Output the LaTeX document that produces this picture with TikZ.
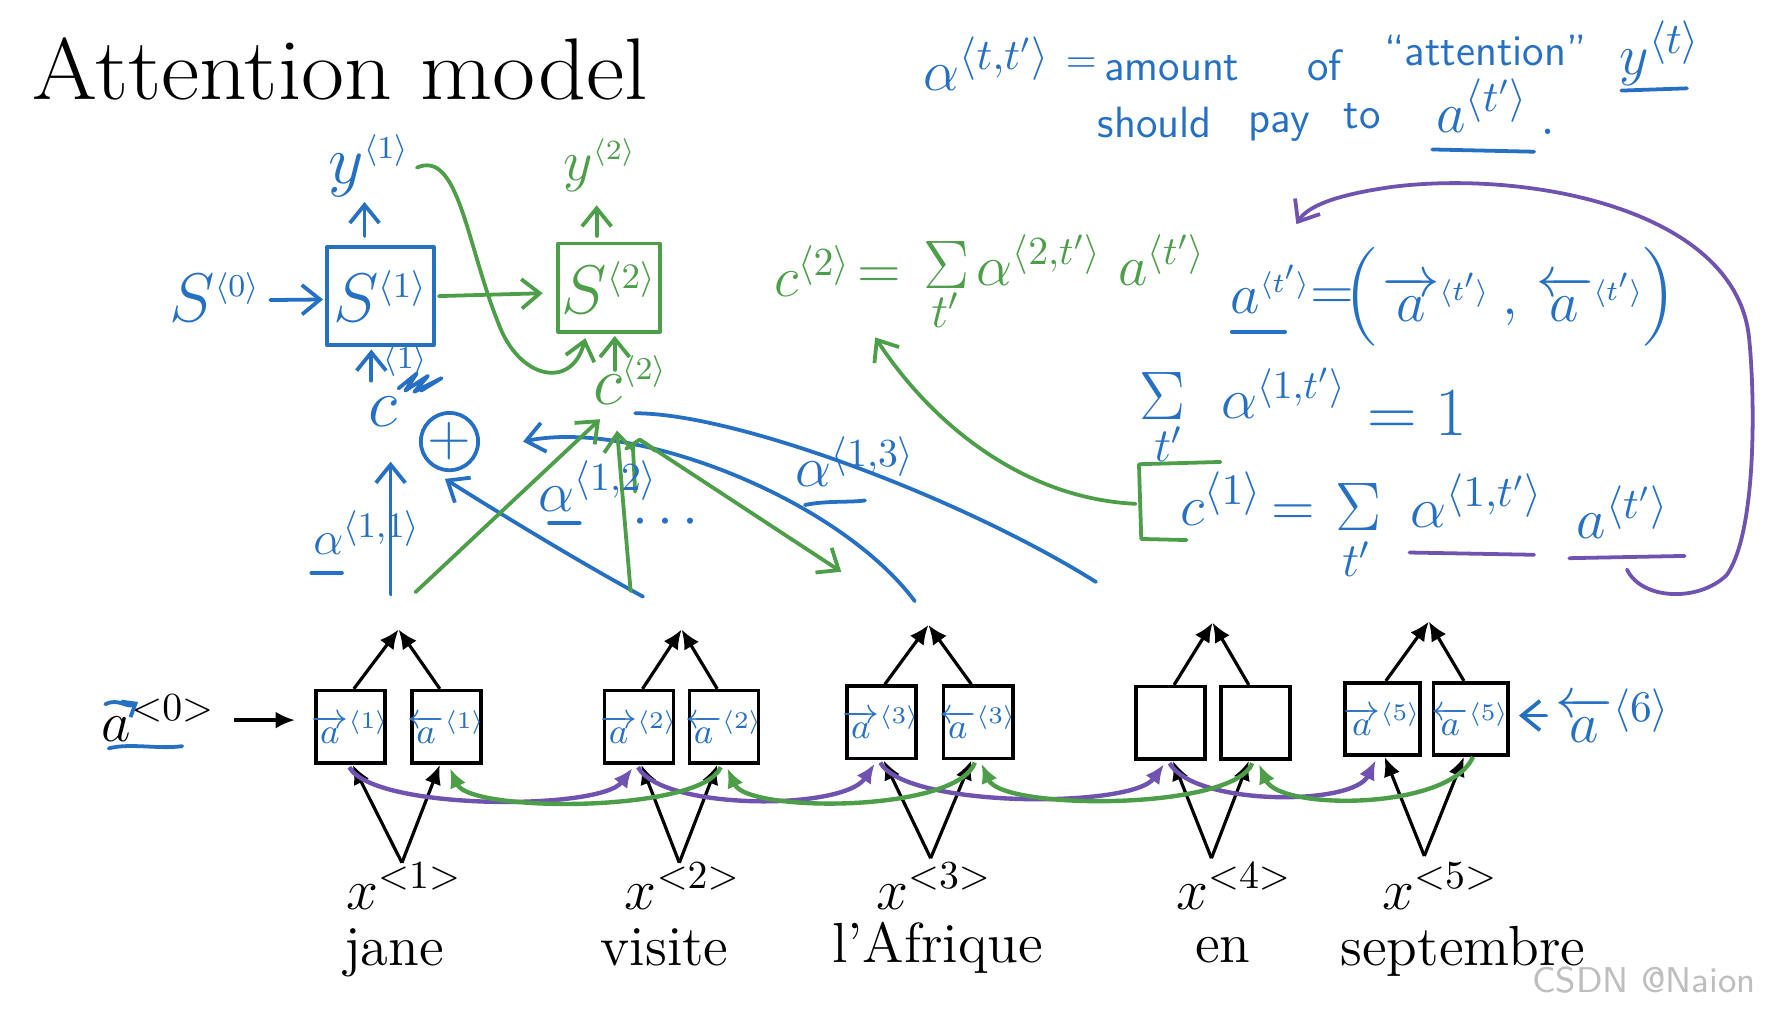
\documentclass[tikz,border=0pt]{standalone}
\usepackage{amsmath}
\usetikzlibrary{arrows.meta,calc}
\definecolor{hb}{RGB}{38,112,196}
\definecolor{hg}{RGB}{76,158,72}
\definecolor{hp}{RGB}{112,82,176}
\definecolor{wm}{RGB}{190,190,190}
\newcommand{\ang}[1]{\langle #1\rangle}
\newcommand{\sang}[1]{{\scriptscriptstyle\langle #1\rangle}}
\newcommand{\fs}[1]{\fontsize{#1}{#1}\selectfont}
\newcommand{\encl}[1]{\makebox[0pt]{$#1$}}
\begin{document}
\begin{tikzpicture}[x=0.1mm,y=-0.1mm,
 hand/.style={line width=0.95pt,line cap=round,line join=round},
 harr/.style={hand,-{Straight Barb[length=1.6mm,width=2.6mm]}},
 barr/.style={line width=0.8pt,-{Latex[length=1.7mm,width=1.5mm]}},
 parr/.style={line width=1.1pt,hp,-{Latex[length=1.7mm,width=1.5mm]}},
 garr/.style={line width=1.1pt,hg,-{Latex[length=1.7mm,width=1.5mm]}},
 enc/.style={draw,line width=0.9pt,minimum width=6.1mm,minimum height=6.4mm,inner sep=0pt,text=hb,font=\fs{9}},
 hbt/.style={text=hb,inner sep=0pt},
 hgt/.style={text=hg,inner sep=0pt},
 word/.style={anchor=base,inner sep=0pt,font=\fs{14.2}},
 xl/.style={anchor=base,inner sep=0pt,font=\fs{14}},
 hw/.style={hbt,font=\sffamily\fs{11}},
 fb/.style={hbt,anchor=base west,font=\fs{14}},
 fg/.style={hgt,anchor=base west,font=\fs{14}}
]
\useasboundingbox[fill=white] (0,0) rectangle (1566,893);

% title
\node[anchor=base west,inner sep=0pt,font=\fs{22},xscale=1.07] (title) at (28,88) {Attention model};

% ---------------- encoder ----------------
\node[enc] (e1a) at (309.5,642) {\encl{\overrightarrow{a}^{\ang{1}}}};
\node[enc] (e1b) at (394.5,642) {\encl{\overleftarrow{a}^{\ang{1}}}};
\node[enc] (e2a) at (564.5,642) {\encl{\overrightarrow{a}^{\ang{2}}}};
\node[enc] (e2b) at (639.5,642) {\encl{\overleftarrow{a}^{\ang{2}}}};
\node[enc] (e3a) at (778.5,638) {\encl{\overrightarrow{a}^{\ang{3}}}};
\node[enc] (e3b) at (864,638) {\encl{\overleftarrow{a}^{\ang{3}}}};
\node[enc] (e4a) at (1034,638.5) {};
\node[enc] (e4b) at (1109,638.5) {};
\node[enc,minimum width=6.6mm] (e5a) at (1221,635) {\encl{\overrightarrow{a}^{\ang{5}}}};
\node[enc,minimum width=6.6mm] (e5b) at (1299,635) {\encl{\overleftarrow{a}^{\ang{5}}}};

\coordinate (p1) at (352,556);
\coordinate (p2) at (602,556);
\coordinate (p3) at (820,552);
\coordinate (p4) at (1071,550);
\coordinate (p5) at (1262,549);
\coordinate (q1) at (355,762);
\coordinate (q2) at (600,762);
\coordinate (q3) at (822,758);
\coordinate (q4) at (1070,758);
\coordinate (q5) at (1258,756);

\foreach \i in {1,...,5}{
  \draw[barr] ($(e\i a.north)+(3,0)$) -- (p\i);
  \draw[barr] ($(e\i b.north)+(-6,0)$) -- (p\i);
  \draw[barr] (q\i) -- ($(e\i a.south)+(2,0)$);
  \draw[barr] (q\i) -- ($(e\i b.south)+(-6,0)$);
}

% purple forward arcs, green backward arcs
\draw[parr] ($(e1a.south)+(-1,2)$) .. controls (330,716) and (530,716) .. ($(e2a.south)+(-6,3)$);
\draw[parr] ($(e2a.south)+(-1,2)$) .. controls (585,716) and (745,716) .. ($(e3a.south)+(-6,3)$);
\draw[parr] ($(e3a.south)+(-1,2)$) .. controls (800,714) and (1000,714) .. ($(e4a.south)+(-6,3)$);
\draw[parr] ($(e4a.south)+(-1,2)$) .. controls (1055,712) and (1195,712) .. ($(e5a.south)+(-6,3)$);
\draw[garr] ($(e2b.south)+(-3,2)$) .. controls (620,718) and (415,718) .. ($(e1b.south)+(3,3)$);
\draw[garr] ($(e3b.south)+(-3,2)$) .. controls (845,718) and (660,718) .. ($(e2b.south)+(3,3)$);
\draw[garr] ($(e4b.south)+(-3,2)$) .. controls (1090,716) and (885,716) .. ($(e3b.south)+(3,3)$);
\draw[garr] ($(e5b.south)+(2,0)$) .. controls (1280,716) and (1130,716) .. ($(e4b.south)+(3,3)$);

% a<0> and a<6>
\node[inner sep=0pt,font=\fs{14}] (a0) at (140,634) {$a^{<0>}$};
\draw[hb,hand,-{Straight Barb[length=1mm,width=1.6mm]}] (93,622) .. controls (105,616) and (112,626) .. (122,620);
\draw[hb,hand] (96,661) .. controls (115,656) and (140,662) .. (161,659);
\draw[barr] ($(a0.east)+(16,2)$) -- ($(e1a.west)+(-17,-6)$);
\node[hbt,font=\fs{15}] (a6) at (1425,632) {$\overleftarrow{a}^{\ang{6}}$};
\draw[harr,hb] ($(a6.west)+(-8,0)$) -- ($(e5b.east)+(8,-3)$);

% x labels and words
\node[xl] (x1) at (357,803) {$x^{<1>}$};
\node[xl] (x2) at (603,803) {$x^{<2>}$};
\node[xl] (x3) at (825,803) {$x^{<3>}$};
\node[xl] (x4) at (1090,803) {$x^{<4>}$};
\node[xl] (x5) at (1272,803) {$x^{<5>}$};
\node[word] (w1) at (348,853) {jane};
\node[word] (w2) at (587,853) {visite};
\node[word] (w3) at (828,850) {l'Afrique};
\node[word] (w4) at (1080,850) {en};
\node[word] (w5) at (1292,853) {septembre};

% ---------------- decoder ----------------
\node[hbt,font=\fs{17}] (S0) at (190,262) {$S^{\sang{0}}$};
\node[draw=hb,hand,minimum width=9.4mm,minimum height=8.7mm,hbt,font=\fs{18}] (S1) at (336,261.5) {$S^{\sang{1}}$};
\node[draw=hg,hand,minimum width=9mm,minimum height=7.8mm,hgt,font=\fs{18}] (S2) at (538,254) {$S^{\sang{2}}$};
\node[hbt,font=\fs{17}] (y1) at (326,146) {$y^{\sang{1}}$};
\node[hgt,font=\fs{15}] (y2) at (530,146) {$y^{\sang{2}}$};
\draw[harr,hb] ($(S1.north)+(-14,-8)$) -- ($(S1.north)+(-14,-38)$);
\draw[harr,hg] ($(S2.north)+(-11,-5)$) -- ($(S2.north)+(-11,-32)$);
\draw[harr,hb] ($(S0.east)+(8,3)$) -- ($(S1.west)+(-2,3)$);
\draw[harr,hg] ($(S1.east)+(3,0)$) -- ($(S2.west)+(-12,5)$);
\node[hgt,font=\fs{17}] (c2) at (557,336) {$c^{\sang{2}}$};
\draw[harr,hg] ($(S2.south)+(5,32)$) -- ($(S2.south)+(5,2)$);
\draw[harr,hg] ($(y1.east)+(6,2)$) .. controls (405,132) and (412,215) .. (440,285) .. controls (458,335) and (505,345) .. ($(S2.south)+(-21,4)$);

\node[hbt,font=\fs{17}] (c1) at (338,364) {$c$};
\draw[harr,hb] ($(c1.north)+(-10,-14)$) -- ($(S1.south)+(-8,2)$);
\node[hbt,font=\fs{8}] (c1s) at (358,318) {$\ang{1}$};
\draw[hb,hand] (352,343) -- (368,330) -- (358,345) -- (378,332) -- (366,346) -- (390,334) -- (372,345);
\node[draw=hb,hand,circle,minimum size=3.4mm,inner sep=0pt,hbt,font=\fs{14}] (plus) at (397,390) {$+$};

\coordinate (u1) at (345,525);
\coordinate (u2) at (568,527);
\coordinate (u3) at (808,531);
\coordinate (u4) at (968,514);
\coordinate (v1) at (367,523);
\coordinate (v2) at (557,522);
\coordinate (v3) at (743,505);
\coordinate (cc) at (561,365);
\coordinate (tb) at (462,390);

\draw[harr,hb] (u1) -- ($(c1.south)+(7,30)$);
\draw[harr,hb] (u2) .. controls (500,490) and (420,440) .. ($(plus.south)+(-4,6)$);
\draw[harr,hb] (u3) .. controls (740,440) and (560,370) .. (tb);
\draw[hand,hb] (cc) .. controls (650,365) and (850,440) .. (u4);

\draw[harr,hg] (v1) -- ($(c2.south)+(-27,12)$);
\draw[harr,hg] (v2) -- ($(c2.south)+(-12,22)$);
\draw[harr,hg] ($(c2.south)+(8,30)$) -- (v3);
\draw[hg,hand] ($(c2.south)+(-4,38)$) -- ($(c2.south)+(8,30)$) -- ($(c2.south)+(22,40)$);
\draw[hg,hand] ($(c2.south)+(4,76)$) -- ($(c2.south)+(2,36)$);

\node[hbt,anchor=base west,font=\fs{13}] (al11) at (276,490) {$\alpha^{\ang{1,1}}$};
\draw[hb,hand] (275,506) -- (302,506);
\node[hbt,anchor=base west,font=\fs{14}] (al12) at (475,452) {$\alpha^{\ang{1,2}}$};
\draw[hb,hand] (485,462) -- (512,462);
\node[hbt,font=\fs{14}] (dots) at (592,462) {$\cdots$};
\node[hbt,anchor=base west,font=\fs{14}] (al13) at (702,430) {$\alpha^{\ang{1,3}}$};
\draw[hb,hand] (711,446) .. controls (730,442) and (750,444) .. (764,442);

% ---------------- right side: definition ----------------
\node[fb,font=\fs{15}] (def) at (815,80) {$\alpha^{\ang{t,t'}}$};
\node[hbt,font=\fs{10}] (defeq) at (955,58) {$=$};
\node[hw] (w_amount) at (1035,60) {amount};
\node[hw] (w_of) at (1170,58) {of};
\node[hw] (w_att) at (1312,45) {``attention''};
\node[fb,font=\fs{15}] (yt) at (1430,66) {$y^{\ang{t}}$};
\draw[hb,hand] (1432,80) -- (1490,78);
\node[hw] (w_should) at (1020,108) {should};
\node[hw] (w_pay) at (1130,112) {pay};
\node[hw] (w_to) at (1203,103) {to};
\node[fb,font=\fs{15}] (at) at (1268,117) {$a^{\ang{t'}}$};
\node[hbt,font=\fs{14}] (dot) at (1367,116) {.};
\draw[hb,hand] (1265,132) -- (1355,134);

% ---------------- right side: green c<2> ----------------
\node[fg] (g_c) at (683,262) {$c^{\ang{2}}$};
\node[hgt,font=\fs{14}] (g_eq) at (777,246) {$=$};
\node[hgt,font=\fs{18}] (g_sig) at (836,234) {$\Sigma$};
\node[hgt,font=\fs{12}] (g_t) at (835,274) {$t'$};
\node[fg] (g_al) at (862,252) {$\alpha^{\ang{2,t'}}$};
\node[fg] (g_a) at (987,252) {$a^{\ang{t'}}$};

% ---------------- right side: a<t'> definition ----------------
\node[fb,font=\fs{15}] (b_a) at (1086,277) {$a^{\sang{t'}}$};
\node[hbt,font=\fs{14}] (b_eq) at (1177,264) {$=$};
\node[hbt,font=\fs{24}] (b_lp) at (1203,262) {$($};
\node[fb,font=\fs{15}] (b_fa) at (1220,284) {$\overrightarrow{a}^{\sang{t'}}$};
\node[hbt,font=\fs{14}] (b_cm) at (1334,280) {$,$};
\node[fb,font=\fs{15}] (b_ba) at (1356,284) {$\overleftarrow{a}^{\sang{t'}}$};
\node[hbt,font=\fs{24}] (b_rp) at (1464,262) {$)$};
\draw[hb,hand] (1088,293) -- (1135,293);

% ---------------- right side: sum = 1 ----------------
\node[hbt,font=\fs{19}] (s_sig) at (1027,350) {$\Sigma$};
\node[hbt,font=\fs{12}] (s_t) at (1032,392) {$t'$};
\node[fb] (s_al) at (1078,370) {$\alpha^{\ang{1,t'}}$};
\node[hbt,font=\fs{16}] (s_eq) at (1252,365) {$=1$};

% ---------------- right side: c<1> ----------------
\node[fb,font=\fs{15}] (r_c) at (1042,464) {$c^{\ang{1}}$};
\node[hbt,font=\fs{14}] (r_eq) at (1142,455) {$=$};
\node[hbt,font=\fs{19}] (r_sig) at (1200,448) {$\Sigma$};
\node[hbt,font=\fs{12}] (r_t) at (1198,494) {$t'$};
\node[fb,font=\fs{15}] (r_al) at (1245,466) {$\alpha^{\ang{1,t'}}$};
\node[fb,font=\fs{15}] (r_a) at (1392,476) {$a^{\ang{t'}}$};
\draw[hg,hand] (1078,408) -- (1006,410) -- (1008,476) -- (1048,477);
\draw[hp,hand] (1245,488) -- (1355,490);
\draw[hp,hand] (1386,493) -- (1488,491);

\draw[harr,hg] (1003,445) .. controls (900,440) and (820,370) .. (773,298);
\draw[harr,hp] (1437,503) .. controls (1450,530) and (1500,532) .. (1525,508) .. controls (1552,470) and (1550,350) .. (1545,300) .. controls (1535,185) and (1350,150) .. (1230,165) .. controls (1180,172) and (1155,182) .. (1145,198);

% watermark
\node[text=wm,font=\sffamily\fs{9},anchor=east] (wmk) at (1563,866) {CSDN @Naion};
\end{tikzpicture}
\end{document}
